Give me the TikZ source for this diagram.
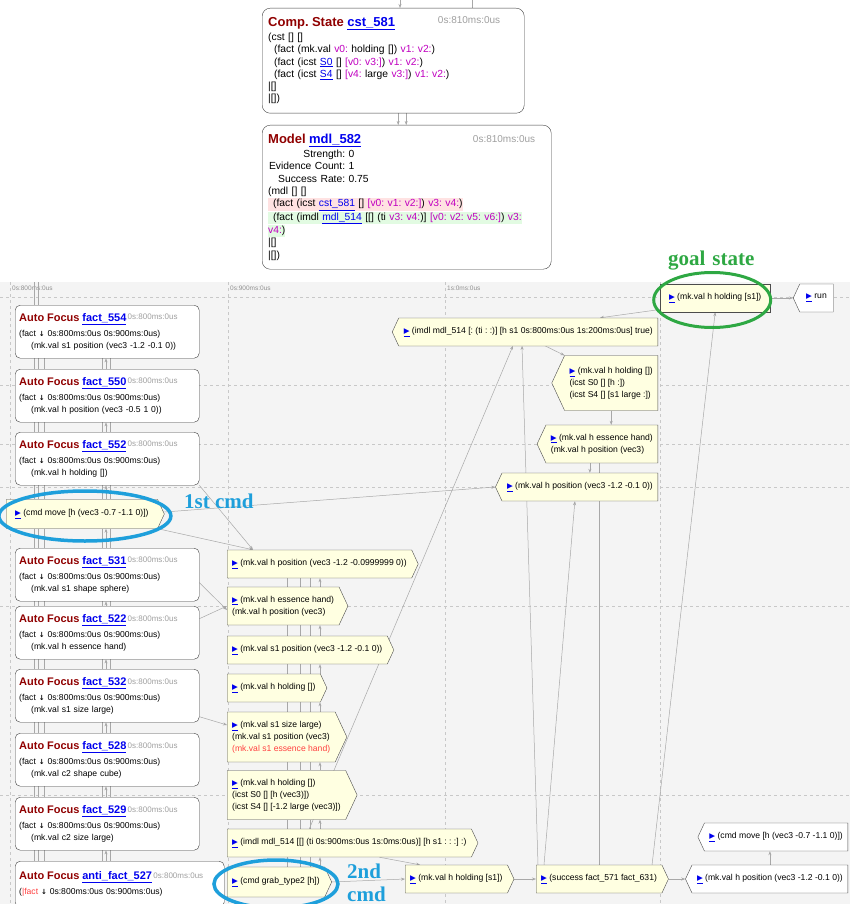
\documentclass[tikz,border=0pt]{standalone}
\usepackage{fontspec}
\setmainfont{Liberation Sans}
\newfontfamily\symfont{DejaVu Sans}
\newfontfamily\notefont{Liberation Serif}
\usetikzlibrary{shapes.symbols,shapes.geometric,arrows.meta,positioning,backgrounds}

\definecolor{titlered}{HTML}{900000}
\definecolor{linkblue}{HTML}{0000EE}
\definecolor{varmag}{HTML}{C000C0}
\definecolor{timegray}{HTML}{A0A0A0}
\definecolor{axisgray}{HTML}{909090}
\definecolor{panelgray}{HTML}{F4F4F4}
\definecolor{gridgray}{HTML}{C8C8C8}
\definecolor{wiregray}{HTML}{A8A8A8}
\definecolor{noteyellow}{HTML}{FFFFE1}
\definecolor{hlpink}{HTML}{FFE2E2}
\definecolor{hlgreen}{HTML}{E2FBE2}
\definecolor{errred}{HTML}{FF4040}
\definecolor{annblue}{HTML}{1E9FDB}
\definecolor{anngreen}{HTML}{2EA843}

\frenchspacing
\setlength{\fboxsep}{0pt}
\newcommand\bodyfont{\fontsize{8.6}{11.8}\selectfont}
\newcommand\titlefont{\fontsize{11}{13}\selectfont\bfseries}
\newcommand\timefont{\fontsize{8}{9}\selectfont\color{timegray}}
\newcommand\topfont{\fontsize{10.3}{12.2}\selectfont}
\newcommand\toptitle{\fontsize{13}{15}\selectfont\bfseries}
\newcommand\axisfont{\fontsize{6.5}{7}\selectfont\color{axisgray}}
\newcommand\mg[1]{\textcolor{varmag}{#1}}
\newcommand\lnk[1]{\textcolor{linkblue}{\underline{#1}}}
\newcommand\icon{\textcolor{linkblue}{\underline{\symfont\fontsize{7.5}{8}\selectfont ▶}}}
\newcommand\darr{{\symfont\bfseries\fontsize{7}{7}\selectfont ↓}}
\newcommand\focustitle[1]{{\titlefont\textcolor{titlered}{Auto Focus} \lnk{#1}}\raisebox{1.5pt}{\timefont\,0s:800ms:0us}}
\newcommand\focusspan{(fact \darr\ 0s:800ms:0us 0s:900ms:0us)}

\begin{document}
\begin{tikzpicture}[x=1pt, y=-1pt,
    afbox/.style={draw=black!75, rounded corners=5pt, fill=white, text width=176pt,
      inner xsep=4pt, inner ysep=3pt, align=left, minimum height=53pt, anchor=north west, font=\bodyfont},
    topbox/.style={draw=black!75, rounded corners=8pt, fill=white, align=left,
      anchor=north west, inner sep=6pt, font=\topfont},
    timelbl/.style={text=timegray, font=\fontsize{10}{11}\selectfont, anchor=north east, inner sep=0pt},
    ynode/.style={signal, signal to=east, signal pointer angle=130, draw=black!70, fill=noteyellow,
      align=left, inner xsep=5pt, inner ysep=3pt, minimum height=28pt, font=\bodyfont, anchor=west},
    lnode/.style={ynode, signal to=west, anchor=east},
    goalbox/.style={rectangle, draw=black!70, fill=noteyellow, font=\bodyfont, anchor=west,
      minimum width=110pt, minimum height=28pt},
    wire/.style={draw=wiregray, line width=0.5pt},
    pointto/.style={-{Stealth[length=4pt,width=3pt]}},
    pointfrom/.style={{Stealth[length=4pt,width=3pt]}-},
    gridline/.style={draw=gridgray, dashed, line width=0.5pt},
    ring/.style={draw=#1, line width=3.5pt, ellipse, inner sep=0pt},
    ann/.style={font=\notefont\bfseries\fontsize{21}{24}\selectfont, text=annblue, inner sep=0pt}]
  \useasboundingbox (0,0) rectangle (850,904);
  \clip (0,0) rectangle (850,904);

  % upper state and model
  \node[topbox, text width=250pt, minimum height=105pt] (cst) at (262,8) {%
    {\toptitle\textcolor{titlered}{Comp. State} \lnk{cst\_581}}\\[2pt]
    (cst [] []\\
    \hspace*{6pt}(fact (mk.val \mg{v0:} holding []) \mg{v1: v2:})\\
    \hspace*{6pt}(fact (icst \lnk{S0} [] \mg{[v0: v3:]}) \mg{v1: v2:})\\
    \hspace*{6pt}(fact (icst \lnk{S4} [] \mg{[v4:} large \mg{v3:]}) \mg{v1: v2:})\\
    |[]\\
    |[])};
  \node[topbox, text width=277pt, minimum height=144pt] (mdl) at (262,125) {%
    {\toptitle\textcolor{titlered}{Model} \lnk{mdl\_582}}\\[2pt]
    \makebox[77pt][r]{Strength:} 0\\
    \makebox[77pt][r]{Evidence Count:} 1\\
    \makebox[77pt][r]{Success Rate:} 0.75\\
    (mdl [] []\\
    \colorbox{hlpink}{\strut\hspace*{5pt}(fact (icst \lnk{cst\_581} [] \mg{[v0: v1: v2:]}) \mg{v3: v4:})}\\
    \colorbox{hlgreen}{\strut\hspace*{5pt}(fact (imdl \lnk{mdl\_514} [[] (ti \mg{v3: v4:})] \mg{[v0: v2: v5: v6:]}) \mg{v3:}}\\
    \colorbox{hlgreen}{\strut\mg{v4:})}\\
    |[]\\
    |[])};
  \node[timelbl] (cstt) at ([shift={(-24,8)}]cst.north east) {0s:810ms:0us};
  \node[timelbl] (mdlt) at ([shift={(-16,10)}]mdl.north east) {0s:810ms:0us};

  % auto focus column
  \node[afbox] (f554) at (15,305) {\focustitle{fact\_554}\\[3pt] \focusspan\\ \hspace*{12pt}(mk.val s1 position (vec3 -1.2 -0.1 0))};
  \node[afbox] (f550) at (15,369) {\focustitle{fact\_550}\\[3pt] \focusspan\\ \hspace*{12pt}(mk.val h position (vec3 -0.5 1 0))};
  \node[afbox] (f552) at (15,432) {\focustitle{fact\_552}\\[3pt] \focusspan\\ \hspace*{12pt}(mk.val h holding [])};
  \node[ynode, minimum height=29pt, inner xsep=9pt] (cmdmove) at (6,514) {\icon\ (cmd move [h (vec3 -0.7 -1.1 0)])};
  \node[afbox] (f531) at (15,548) {\focustitle{fact\_531}\\[3pt] \focusspan\\ \hspace*{12pt}(mk.val s1 shape sphere)};
  \node[afbox] (f522) at (15,606) {\focustitle{fact\_522}\\[3pt] \focusspan\\ \hspace*{12pt}(mk.val h essence hand)};
  \node[afbox] (f532) at (15,669) {\focustitle{fact\_532}\\[3pt] \focusspan\\ \hspace*{12pt}(mk.val s1 size large)};
  \node[afbox] (f528) at (15,733) {\focustitle{fact\_528}\\[3pt] \focusspan\\ \hspace*{12pt}(mk.val c2 shape cube)};
  \node[afbox] (f529) at (15,797) {\focustitle{fact\_529}\\[3pt] \focusspan\\ \hspace*{12pt}(mk.val c2 size large)};
  \node[afbox, text width=201pt, minimum height=46pt] (af527) at (15,861) {\focustitle{anti\_fact\_527}\\[3pt] (\textcolor{errred}{|fact} \darr\ 0s:800ms:0us 0s:900ms:0us)};

  % middle column
  \node[ynode] (n1) at (227,564) {\icon\ (mk.val h position (vec3 -1.2 -0.0999999 0))};
  \node[ynode, minimum height=38pt] (n2) at (227,606) {\icon\ (mk.val h essence hand)\\(mk.val h position (vec3)};
  \node[ynode] (n3) at (227,650) {\icon\ (mk.val s1 position (vec3 -1.2 -0.1 0))};
  \node[ynode] (n4) at (227,688) {\icon\ (mk.val h holding [])};
  \node[ynode, minimum height=50pt] (n5) at (227,737) {\icon\ (mk.val s1 size large)\\(mk.val s1 position (vec3)\\\textcolor{errred}{(mk.val s1 essence hand)}};
  \node[ynode, minimum height=49pt] (n6) at (227,795) {\icon\ (mk.val h holding [])\\(icst S0 [] [h (vec3)])\\(icst S4 [] [-1.2 large (vec3)])};
  \node[ynode] (n7) at (227,843) {\icon\ (imdl mdl\_514 [[] (ti 0s:900ms:0us 1s:0ms:0us)] [h s1 : : :] :)};
  \node[ynode, minimum height=30pt] (n8) at (227,882) {\icon\ (cmd grab\_type2 [h])};
  \node[ynode] (n9) at (405,879) {\icon\ (mk.val h holding [s1])};
  \node[ynode] (n10) at (536,879) {\icon\ (success fact\_571 fact\_631)};
  \node[lnode, fill=white] (n11) at (848,879) {\icon\ (mk.val h position (vec3 -1.2 -0.1 0))};
  \node[lnode, fill=white] (n12) at (848,837) {\icon\ (cmd move [h (vec3 -0.7 -1.1 0)])};

  % right column
  \node[goalbox] (goal) at (660,298) {\icon\ (mk.val h holding [s1])};
  \node[lnode, fill=white, anchor=west, minimum width=40pt] (run) at (793,298) {\icon\ run};
  \node[lnode] (ri1) at (658,332) {\icon\ (imdl mdl\_514 [: (ti : :)] [h s1 0s:800ms:0us 1s:200ms:0us] true)};
  \node[lnode, minimum height=55pt] (ri2) at (658,383) {\icon\ (mk.val h holding [])\\(icst S0 [] [h :])\\(icst S4 [] [s1 large :])};
  \node[lnode, minimum height=38pt] (ri3) at (658,444) {\icon\ (mk.val h essence hand)\\(mk.val h position (vec3)};
  \node[lnode] (ri4) at (658,487) {\icon\ (mk.val h position (vec3 -1.2 -0.1 0))};

  \begin{scope}[on background layer]
    \fill[panelgray] (0,282) rectangle (850,904);
    \foreach \gx in {10,228,445,660} \draw[gridline] (\gx,282) -- (\gx,904);
    \foreach \gy in {297,385,444,487,606,795} \draw[gridline] (0,\gy) -- (850,\gy);
    \node[font=\axisfont, anchor=west, inner sep=0pt] (t800) at (12,288) {0s:800ms:0us};
    \node[font=\axisfont, anchor=west, inner sep=0pt] (t900) at (230,288) {0s:900ms:0us};
    \node[font=\axisfont, anchor=west, inner sep=0pt] (t1000) at (447,288) {1s:0ms:0us};
    % feeds of the upper boxes
    \coordinate (feedA) at (400,0);
    \coordinate (feedB) at (472,0);
    \draw[wire, pointto] (feedA) -- (feedA |- cst.north);
    \draw[wire] (feedB) -- (feedB |- cst.north);
    \draw[wire, pointto] ([xshift=5]cst.south) -- ([xshift=5]cst.south |- mdl.north);
    \draw[wire, pointto] ([xshift=13]cst.south) -- ([xshift=13]cst.south |- mdl.north);
    % bundles along the left column
    \foreach \c in {34,38}
      {\coordinate (lx) at (\c,282); \draw[wire] (lx) -- (lx |- f554.north);}
    \foreach \a/\b in {f554/f550,f550/f552,f552/cmdmove,cmdmove/f531,f531/f522,f522/f532,f532/f528,f528/f529,f529/af527}
      \foreach \c in {34,38,44,102,110}
        {\coordinate (lx) at (\c,0); \draw[wire] (\a.south -| lx) -- (\b.north -| lx);}
    \foreach \a/\b in {f554/f550,f550/f552,f552/cmdmove,cmdmove/f531,f531/f522,f522/f532,f532/f528,f528/f529,f529/af527}
      {\coordinate (lx) at (106,0); \draw[wire, pointfrom] (\a.south -| lx) -- (\b.north -| lx);}
    % bundles along the middle column
    \foreach \a/\b in {n1/n2,n2/n3,n3/n4,n4/n5,n5/n6,n6/n7,n7/n8}
      \foreach \c in {287,300,310}
        {\coordinate (mx) at (\c,0); \draw[wire] (\a.south -| mx) -- (\b.north -| mx);}
    \foreach \a/\b in {n1/n2,n2/n3,n3/n4,n4/n5,n5/n6,n6/n7,n7/n8}
      {\coordinate (mx) at (320,0); \draw[wire, pointfrom] (\a.south -| mx) -- (\b.north -| mx);}
    % links
    \draw[wire, pointto] (goal.east) -- (run.west);
    \draw[wire, pointto] ([shift={(2,-3)}]goal.south west) -- ([xshift=-58]ri1.north east);
    \draw[wire, pointto] ([xshift=-113]ri1.south east) -- (ri2.north west);
    \draw[wire, pointto] (ri2.south) -- (ri2.south |- ri3.north);
    \draw[wire, pointto] ([xshift=-12]ri3.south) -- ([xshift=-12]ri3.south |- ri4.north);
    \draw[wire, pointto] ([yshift=2]cmdmove.east) -- (ri4.west);
    \draw[wire, pointfrom] (goal.south) -- ([xshift=-10]n10.north east);
    \draw[wire, pointfrom] ([xshift=-145]ri1.south east) -- ([xshift=-40]n7.north);
    \draw[wire, pointfrom] ([xshift=-136]ri1.south east) -- ([xshift=2]n10.north west);
    \draw[wire, pointfrom] ([xshift=-5]ri4.south) -- ([xshift=8]n10.north west);
    \draw[wire] (n10.north) -- (n10.north |- ri3.south);
    \draw[wire, pointto] (f552.south east) -- ([xshift=26]n1.north west);
    \draw[wire, pointto] (cmdmove.south east) -- ([xshift=26]n1.north west);
    \draw[wire, pointto] ([yshift=14]f522.east) -- (n2.west);
    \draw[wire, pointto] ([yshift=-8]f531.east) -- ([yshift=-4]n2.west);
    \draw[wire, pointto] ([yshift=-21]f532.east) -- ([yshift=12]n5.west);
    \draw[wire, pointto] ([xshift=30]n7.south) -- ([xshift=15]n9.north west);
    \draw[wire, pointto] (n8.east) -- (n9.west);
    \draw[wire, pointto] (n9.east) -- (n10.west);
    \draw[wire, pointto] (n10.east) -- (n11.west);
    \draw[wire, pointto] (n11.north) -- (n11.north |- n12.south);
  \end{scope}

  % annotations
  \node[ring=annblue, minimum width=172pt, minimum height=50pt] (ring1) at ([shift={(3,2)}]cmdmove.center) {};
  \node[ring=annblue, minimum width=124pt, minimum height=48pt] (ring2) at ([yshift=-2]n8.center) {};
  \node[ring=anngreen, line width=3pt, minimum width=117pt, minimum height=55pt] (ring3) at ([shift={(-3,2)}]goal.center) {};
  \node[ann, text=anngreen, anchor=base] (goallbl) at ([shift={(-1,-6)}]ring3.north) {goal\hspace{7pt}state};
  \node[ann, anchor=base west] (cmd1lbl) at (184,508) {1st cmd};
  \node[ann, anchor=base west] (cmd2a) at (347,878) {2nd};
  \node[ann, anchor=base west] (cmd2b) at (347,901) {cmd};
\end{tikzpicture}
\end{document}
